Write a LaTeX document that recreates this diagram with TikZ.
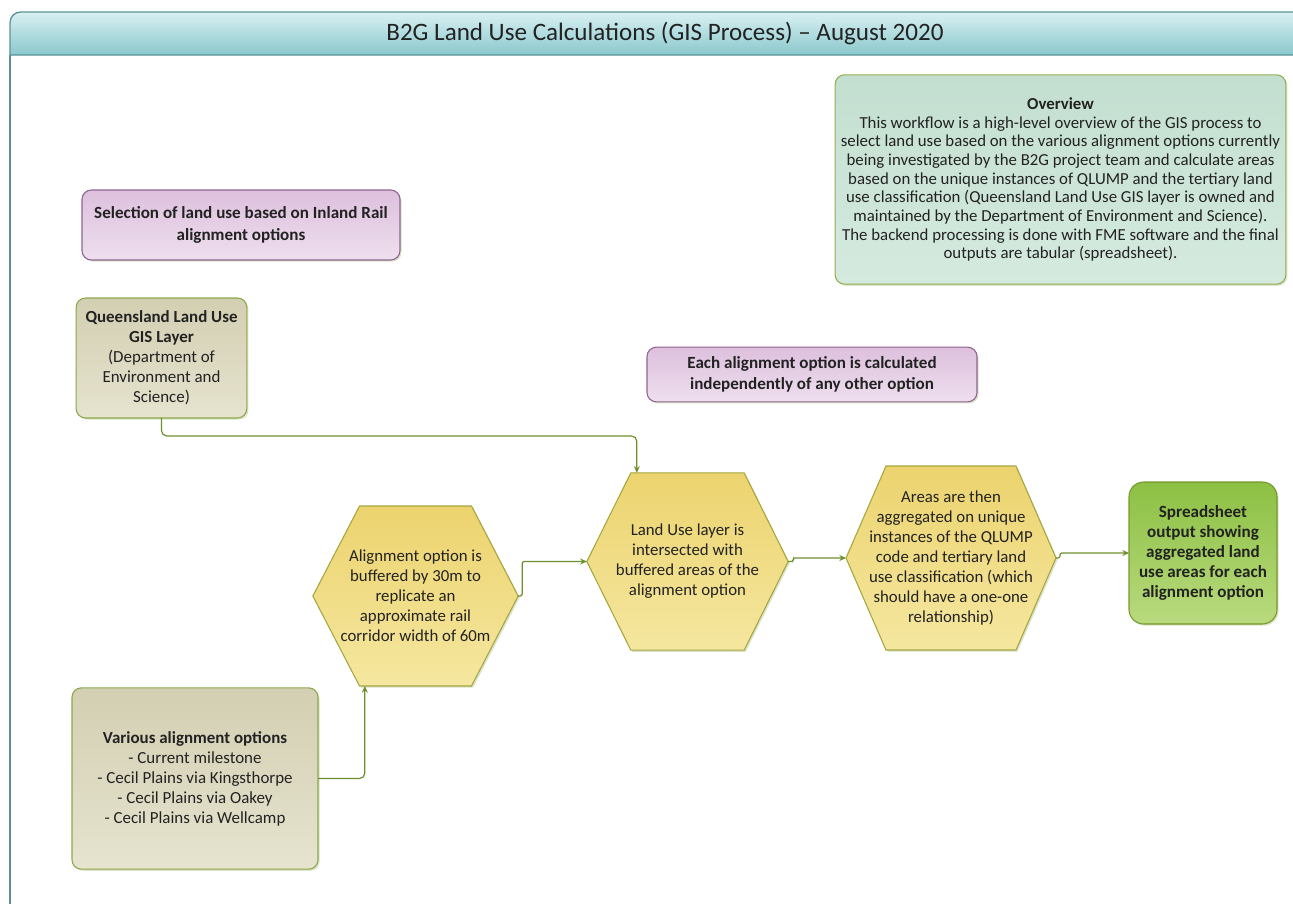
\documentclass[tikz,border=0pt]{standalone}
\usepackage{fontspec}
\setmainfont{Carlito}
\usetikzlibrary{positioning,backgrounds,shadows,arrows.meta}

\definecolor{titletop}{HTML}{D9F0F2}
\definecolor{titlebot}{HTML}{8AC8CC}
\definecolor{tealedge}{HTML}{5C9296}
\definecolor{purpletop}{HTML}{DDC0DD}
\definecolor{purplebot}{HTML}{EEDFEE}
\definecolor{purpleedge}{HTML}{8F6490}
\definecolor{tantop}{HTML}{D3CFB2}
\definecolor{tanbot}{HTML}{E6E3CF}
\definecolor{tanedge}{HTML}{8CA84A}
\definecolor{hextop}{HTML}{ECD36E}
\definecolor{hexbot}{HTML}{F5E7A0}
\definecolor{hexedge}{HTML}{A5A640}
\definecolor{greentop}{HTML}{8CC043}
\definecolor{greenbot}{HTML}{B9DA7E}
\definecolor{greenedge}{HTML}{76982E}
\definecolor{ovtop}{HTML}{C3DFD0}
\definecolor{ovbot}{HTML}{D5EADF}
\definecolor{ovedge}{HTML}{93AE52}
\definecolor{flowcol}{HTML}{6E8F30}
\definecolor{textcol}{HTML}{222222}

\tikzset{
  softshadow/.style={drop shadow={shadow xshift=1.2pt,shadow yshift=-1.2pt,opacity=0.25,fill=flowcol}},
  box/.style={rounded corners=7pt, line width=0.8pt, align=center, text=textcol, inner sep=3pt, outer sep=0pt, softshadow},
  notebox/.style={box, draw=purpleedge, top color=purpletop, bottom color=purplebot, font=\bfseries\fontsize{12.8}{16}\selectfont},
  srcbox/.style={box, draw=tanedge, top color=tantop, bottom color=tanbot, font=\fontsize{12.7}{15}\selectfont},
  outputbox/.style={box, rounded corners=11pt, draw=greenedge, top color=greentop, bottom color=greenbot, font=\bfseries\fontsize{12.8}{15}\selectfont},
  overviewbox/.style={box, draw=ovedge, top color=ovtop, bottom color=ovbot, font=\fontsize{12.6}{14}\selectfont},
  hexnode/.style={align=center, text=textcol, inner sep=0pt, outer sep=0pt, font=\fontsize{12.6}{15}\selectfont},
  hexshape/.style={draw=hexedge, line width=0.8pt, top color=hextop, bottom color=hexbot, softshadow},
  flow/.style={draw=flowcol, line width=0.9pt, rounded corners=4pt, -{Stealth[length=5pt,width=4.5pt]}},
  jog/.style={flow, rounded corners=1.5pt}
}

\begin{document}
\begin{tikzpicture}[x=0.75pt,y=-0.75pt]
\useasboundingbox (0,0) rectangle (1293,904);
\clip (0,0) rectangle (1293,904);

\draw[tealedge, line width=1pt, top color=titletop, bottom color=titlebot]
  (10,55) [rounded corners=8pt] -- (10,12) -- (1310,12) [sharp corners] -- (1310,55) -- cycle;
\draw[tealedge, line width=1pt] (10,55) -- (10,904);
\node (title) at (665,33) [text=textcol, font=\fontsize{18.8}{22}\selectfont] {B2G Land Use Calculations (GIS Process) -- August 2020};

\node (selnote) at (241,225) [notebox, minimum width=238.5pt, minimum height=52.5pt]
  {Selection of land use based on Inland Rail\\alignment options};
\node (overview) at (1060.5,179.5) [overviewbox, minimum width=338pt, minimum height=157pt]
  {\textbf{Overview}\\This workflow is a high-level overview of the GIS process to\\select land use based on the various alignment options currently\\being investigated by the B2G project team and calculate areas\\based on the unique instances of QLUMP and the tertiary land\\use classification (Queensland Land Use GIS layer is owned and\\maintained by the Department of Environment and Science).\\The backend processing is done with FME software and the final\\outputs are tabular (spreadsheet).};
\node (qldlayer) at (161.5,358) [srcbox, minimum width=128pt, minimum height=90pt]
  {\textbf{Queensland Land Use}\\\textbf{GIS Layer}\\(Department of\\Environment and\\Science)};
\node (indepnote) at (812,374.5) [notebox, minimum width=247.5pt, minimum height=41pt]
  {Each alignment option is calculated\\independently of any other option};
\node (options) at (195,778.5) [srcbox, minimum width=184.5pt, minimum height=136pt]
  {\textbf{Various alignment options}\\- Current milestone\\- Cecil Plains via Kingsthorpe\\- Cecil Plains via Oakey\\- Cecil Plains via Wellcamp};

\node (hexA) at (415.5,596) [hexnode, minimum width=154pt, minimum height=135pt]
  {Alignment option is\\buffered by 30m to\\replicate an\\approximate rail\\corridor width of 60m};
\node (hexB) at (687.5,561.5) [hexnode, minimum width=151pt, minimum height=133pt]
  {Land Use layer is\\intersected with\\buffered areas of the\\alignment option};
\node (hexC) at (951,558) [hexnode, minimum width=157.5pt, minimum height=138pt]
  {Areas are then\\aggregated on unique\\instances of the QLUMP\\code and tertiary land\\use classification (which\\should have a one-one\\relationship)};
\node (output) at (1203,553) [outputbox, minimum width=111pt, minimum height=106.5pt]
  {Spreadsheet\\output showing\\aggregated land\\use areas for each\\alignment option};

\begin{scope}[on background layer]
\foreach \h/\c in {hexA/35pt,hexB/33pt,hexC/30pt}
  \draw[hexshape] (\h.west) -- ([xshift=\c]\h.north west) -- ([xshift=-\c]\h.north east)
    -- (\h.east) -- ([xshift=-\c]\h.south east) -- ([xshift=\c]\h.south west) -- cycle;
\end{scope}

\draw[flow] (qldlayer.south) -- ++(0,18) -| ([xshift=-38pt]hexB.north);
\draw[flow] (options.east) -| ([xshift=-38pt]hexA.south);
\draw[jog] (hexA.east) -- ++(4,0) |- (hexB.west);
\draw[jog] (hexB.east) -- ++(5,0) |- (hexC.west);
\draw[jog] (hexC.east) -- ++(4,0) |- (output.west);
\end{tikzpicture}
\end{document}
